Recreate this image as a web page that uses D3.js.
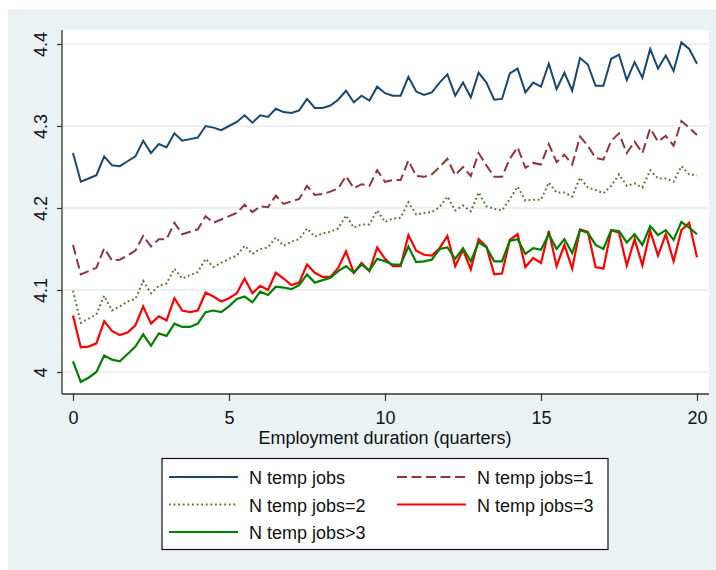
<!DOCTYPE html>
<html>
<head>
<meta charset="utf-8">
<script src="https://cdn.jsdelivr.net/npm/d3@7"></script>
<style>
    body { margin: 0; background: #fff; }
    svg { display: block; font-family: "Liberation Sans", Arial, sans-serif; }
</style>
</head>
<body>
<svg width="716" height="570"></svg>
<script>
// employment duration in quarters (one point every quarter of a quarter)
const quarters = [
    0, 0.25, 0.5, 0.75, 1, 1.25, 1.5, 1.75, 2, 2.25, 2.5, 2.75, 3, 3.25, 3.5, 3.75,
    4, 4.25, 4.5, 4.75, 5, 5.25, 5.5, 5.75, 6, 6.25, 6.5, 6.75, 7, 7.25, 7.5, 7.75,
    8, 8.25, 8.5, 8.75, 9, 9.25, 9.5, 9.75, 10, 10.25, 10.5, 10.75, 11, 11.25, 11.5, 11.75,
    12, 12.25, 12.5, 12.75, 13, 13.25, 13.5, 13.75, 14, 14.25, 14.5, 14.75, 15, 15.25, 15.5, 15.75,
    16, 16.25, 16.5, 16.75, 17, 17.25, 17.5, 17.75, 18, 18.25, 18.5, 18.75, 19, 19.25, 19.5, 19.75, 20
]

const nTempAll = [
    4.267, 4.232, 4.236, 4.240, 4.263, 4.252, 4.251, 4.257, 4.263, 4.282, 4.267, 4.278, 4.274, 4.291, 4.282, 4.284, 4.286, 4.300, 4.298, 4.295, 4.300,
    4.305, 4.313, 4.304, 4.313, 4.311, 4.321, 4.317, 4.316, 4.319, 4.333, 4.322, 4.322, 4.325, 4.332, 4.343, 4.329, 4.337, 4.331, 4.348, 4.340,
    4.337, 4.337, 4.360, 4.342, 4.338, 4.341, 4.353, 4.363, 4.337, 4.353, 4.335, 4.365, 4.353, 4.332, 4.333, 4.364, 4.370, 4.341, 4.353, 4.348, 4.376,
    4.345, 4.365, 4.343, 4.383, 4.375, 4.349, 4.349, 4.382, 4.387, 4.356, 4.378, 4.359, 4.394, 4.370, 4.386, 4.367, 4.402, 4.394, 4.376
]
const nTemp1 = [
    4.155, 4.119, 4.123, 4.127, 4.151, 4.136, 4.137, 4.142, 4.148, 4.166, 4.153, 4.162, 4.162, 4.182, 4.168, 4.171, 4.174, 4.190, 4.182, 4.186, 4.190,
    4.194, 4.204, 4.195, 4.202, 4.201, 4.215, 4.205, 4.208, 4.211, 4.227, 4.216, 4.217, 4.220, 4.224, 4.239, 4.224, 4.229, 4.227, 4.246, 4.232,
    4.234, 4.234, 4.258, 4.239, 4.238, 4.241, 4.250, 4.260, 4.240, 4.250, 4.239, 4.267, 4.252, 4.238, 4.238, 4.260, 4.274, 4.249, 4.255, 4.253, 4.278,
    4.256, 4.265, 4.253, 4.287, 4.276, 4.261, 4.259, 4.282, 4.291, 4.267, 4.281, 4.267, 4.297, 4.281, 4.288, 4.276, 4.306, 4.298, 4.289
]
const nTemp2 = [
    4.099, 4.060, 4.065, 4.070, 4.093, 4.075, 4.080, 4.086, 4.089, 4.111, 4.096, 4.105, 4.108, 4.126, 4.114, 4.118, 4.122, 4.138, 4.128, 4.133, 4.138,
    4.142, 4.154, 4.144, 4.150, 4.152, 4.164, 4.154, 4.159, 4.162, 4.175, 4.165, 4.169, 4.171, 4.175, 4.191, 4.176, 4.180, 4.180, 4.197, 4.183,
    4.187, 4.188, 4.207, 4.192, 4.194, 4.195, 4.201, 4.214, 4.197, 4.203, 4.196, 4.219, 4.202, 4.199, 4.197, 4.211, 4.226, 4.209, 4.210, 4.210, 4.231,
    4.219, 4.219, 4.214, 4.237, 4.225, 4.222, 4.218, 4.227, 4.241, 4.227, 4.230, 4.225, 4.246, 4.236, 4.236, 4.232, 4.251, 4.241, 4.240
]
const nTemp3 = [
    4.069, 4.030, 4.031, 4.035, 4.062, 4.050, 4.045, 4.048, 4.057, 4.080, 4.059, 4.068, 4.063, 4.090, 4.075, 4.073, 4.075, 4.097, 4.092, 4.086, 4.090,
    4.096, 4.114, 4.096, 4.105, 4.100, 4.121, 4.114, 4.106, 4.109, 4.131, 4.121, 4.116, 4.116, 4.127, 4.147, 4.121, 4.133, 4.123, 4.152, 4.138,
    4.129, 4.129, 4.167, 4.148, 4.143, 4.142, 4.151, 4.166, 4.129, 4.149, 4.125, 4.162, 4.153, 4.119, 4.120, 4.161, 4.168, 4.128, 4.139, 4.133, 4.172,
    4.129, 4.155, 4.126, 4.174, 4.171, 4.128, 4.126, 4.173, 4.170, 4.130, 4.162, 4.130, 4.172, 4.142, 4.168, 4.135, 4.173, 4.182, 4.140
]
const nTempMore3 = [
    4.013, 3.988, 3.993, 4.000, 4.020, 4.015, 4.013, 4.022, 4.031, 4.046, 4.032, 4.047, 4.044, 4.059, 4.055, 4.055, 4.059, 4.073, 4.075, 4.073, 4.080,
    4.089, 4.092, 4.085, 4.098, 4.094, 4.104, 4.103, 4.101, 4.106, 4.119, 4.109, 4.112, 4.115, 4.123, 4.129, 4.121, 4.131, 4.124, 4.138, 4.135,
    4.131, 4.131, 4.153, 4.134, 4.135, 4.137, 4.150, 4.152, 4.138, 4.151, 4.135, 4.158, 4.152, 4.135, 4.135, 4.160, 4.162, 4.144, 4.151, 4.149, 4.168,
    4.150, 4.162, 4.145, 4.173, 4.170, 4.155, 4.150, 4.173, 4.172, 4.158, 4.168, 4.155, 4.178, 4.167, 4.173, 4.161, 4.183, 4.176, 4.168
]

const seriesNames = ["N temp jobs", "N temp jobs=1", "N temp jobs=2", "N temp jobs=3", "N temp jobs>3"]
const seriesValues = [nTempAll, nTemp1, nTemp2, nTemp3, nTempMore3]
const xTicks = [0, 5, 10, 15, 20]
const yTicks = [4, 4.1, 4.2, 4.3, 4.4]
const xTitle = "Employment duration (quarters)"

// stata s2color look
const styles = [
    { color: "#1a476f", width: 2, dash: null },
    { color: "#90353b", width: 2, dash: "10,4.5" },
    { color: "#55752f", width: 2, dash: "1.8,2.8" },
    { color: "#ff0000", width: 2.2, dash: null },
    { color: "#008000", width: 2.2, dash: null }
]

const svg = d3.select("svg")
const plot = { left: 62, right: 709, top: 30, bottom: 394 }

const x = d3.scaleLinear().domain([0, 20]).range([73, 697])
const y = d3.scaleLinear().domain([4, 4.4]).range([372, 44])

// outer graph region
svg.append("rect")
    .attr("x", 8).attr("y", 9)
    .attr("width", 708).attr("height", 561)
    .attr("fill", "#eaf2f3")

svg.append("rect")
    .attr("x", plot.left).attr("y", plot.top)
    .attr("width", plot.right - plot.left).attr("height", plot.bottom - plot.top)
    .attr("fill", "#fff")

// gridlines
svg.append("g")
    .selectAll("line")
    .data(yTicks).enter()
    .append("line")
    .attr("x1", plot.left).attr("x2", plot.right)
    .attr("y1", d => y(d)).attr("y2", d => y(d))
    .attr("stroke", "#eaf2f3")
    .attr("stroke-width", 2)

// y axis
const yAxis = svg.append("g")
    .attr("transform", `translate(${plot.left},0)`)
    .call(d3.axisLeft(y).tickValues(yTicks).tickSize(5).tickFormat(d3.format("")))
yAxis.select(".domain")
    .attr("d", `M0,${plot.top}V${plot.bottom}`)
    .attr("stroke", "#333")
    .attr("stroke-width", 1.3)
yAxis.selectAll(".tick line").attr("stroke", "#333").attr("stroke-width", 1.2)
yAxis.selectAll(".tick text")
    .attr("x", null).attr("dy", null)
    .attr("transform", "translate(-15,0) rotate(-90)")
    .attr("text-anchor", "middle")
    .attr("font-size", 18)
    .attr("font-family", "Liberation Sans, Arial, sans-serif")
    .attr("fill", "#111")

// x axis
const xAxis = svg.append("g")
    .attr("transform", `translate(0,${plot.bottom})`)
    .call(d3.axisBottom(x).tickValues(xTicks).tickSize(7).tickFormat(d3.format("")))
xAxis.select(".domain")
    .attr("d", `M${plot.left},0H${plot.right}`)
    .attr("stroke", "#333")
    .attr("stroke-width", 1.3)
xAxis.selectAll(".tick line").attr("stroke", "#333").attr("stroke-width", 1.2)
xAxis.selectAll(".tick text")
    .attr("y", 30).attr("dy", null)
    .attr("font-size", 18)
    .attr("font-family", "Liberation Sans, Arial, sans-serif")
    .attr("fill", "#111")

svg.append("text")
    .attr("x", 385).attr("y", 444)
    .attr("text-anchor", "middle")
    .attr("font-size", 18)
    .attr("fill", "#111")
    .text(xTitle)

// lines
const line = d3.line()
    .x((d, i) => x(quarters[i]))
    .y(d => y(d))

svg.append("g")
    .selectAll("path")
    .data(seriesValues).enter()
    .append("path")
    .attr("d", line)
    .attr("fill", "none")
    .attr("stroke", (d, i) => styles[i].color)
    .attr("stroke-width", (d, i) => styles[i].width)
    .attr("stroke-dasharray", (d, i) => styles[i].dash)
    .attr("stroke-linejoin", "miter")

// legend
const legend = svg.append("g")
legend.append("rect")
    .attr("x", 162).attr("y", 458.5)
    .attr("width", 446).attr("height", 91)
    .attr("fill", "#fff")
    .attr("stroke", "#111")
    .attr("stroke-width", 1.2)

const keyPos = (i) => ({
    kx: i % 2 === 0 ? 169 : 397,
    tx: i % 2 === 0 ? 249 : 477,
    ky: 477 + Math.floor(i / 2) * 27.5
})

const item = legend.selectAll(".item")
    .data(seriesNames).enter()
    .append("g")
    .classed("item", true)

item.append("line")
    .attr("x1", (d, i) => keyPos(i).kx)
    .attr("x2", (d, i) => keyPos(i).kx + 69)
    .attr("y1", (d, i) => keyPos(i).ky)
    .attr("y2", (d, i) => keyPos(i).ky)
    .attr("stroke", (d, i) => styles[i].color)
    .attr("stroke-width", (d, i) => styles[i].width)
    .attr("stroke-dasharray", (d, i) => styles[i].dash)

item.append("text")
    .attr("x", (d, i) => keyPos(i).tx)
    .attr("y", (d, i) => keyPos(i).ky + 7)
    .attr("font-size", 18)
    .attr("fill", "#111")
    .text(d => d)
</script>
</body>
</html>
